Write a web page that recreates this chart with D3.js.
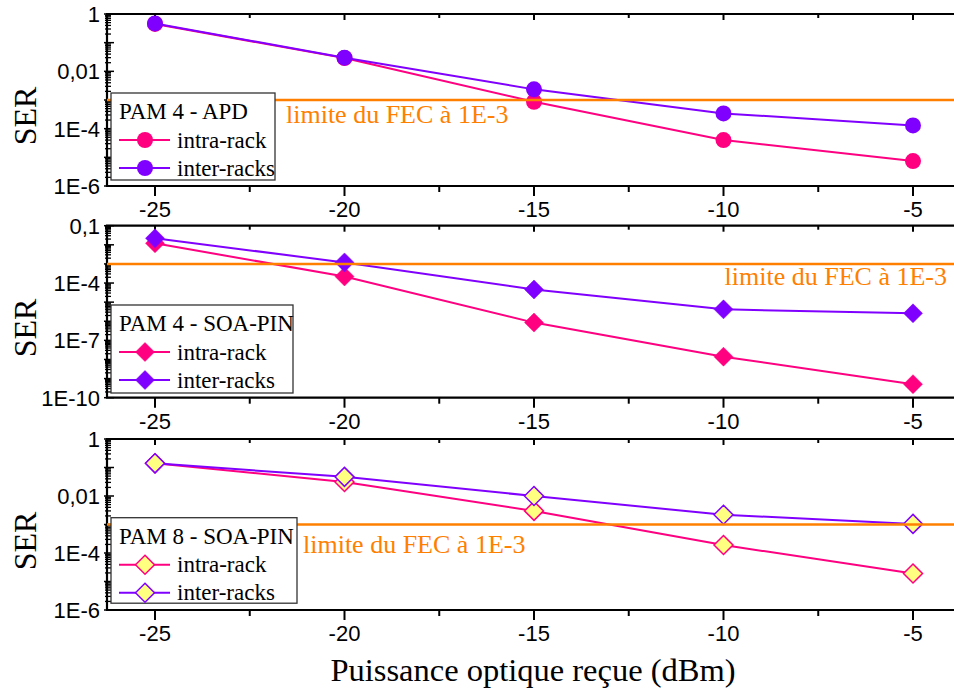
<!DOCTYPE html>
<html>
<head>
<meta charset="utf-8">
<script src="https://cdn.jsdelivr.net/npm/d3@7"></script>
<style>
body { margin: 0; background: #fff; }
svg { display: block; }
</style>
</head>
<body>
<svg id="chart" width="954" height="692"></svg>
<script>
// ---- Data ----
const powers = [-25, -20, -15, -10, -5];
const xTickLabels = ["-25", "-20", "-15", "-10", "-5"];
const seriesNames = ["intra-rack", "inter-racks"];
const panelTitles = ["PAM 4 - APD", "PAM 4 - SOA-PIN", "PAM 8 - SOA-PIN"];
const apdIntra  = [0.45, 0.029, 8.7e-4, 4.0e-5, 7.4e-6];
const apdInter  = [0.47, 0.030, 2.35e-3, 3.4e-4, 1.3e-4];
const soa4Intra = [0.012, 2.2e-4, 8.5e-7, 1.4e-8, 5.1e-10];
const soa4Inter = [0.022, 1.2e-3, 4.6e-5, 4.2e-6, 2.6e-6];
const soa8Intra = [0.14, 0.031, 3.0e-3, 1.9e-4, 1.9e-5];
const soa8Inter = [0.14, 0.047, 0.010, 2.2e-3, 1.05e-3];
const fecLimit = 1e-3;
const fecLabel = "limite du FEC à 1E-3";
const yTicksTop = [1, 0.01, 1e-4, 1e-6];
const yTickLabelsTop = ["1", "0,01", "1E-4", "1E-6"];
const yTicksMid = [0.1, 1e-4, 1e-7, 1e-10];
const yTickLabelsMid = ["0,1", "1E-4", "1E-7", "1E-10"];
const yTicksBot = [1, 0.01, 1e-4, 1e-6];
const yTickLabelsBot = ["1", "0,01", "1E-4", "1E-6"];

// ---- Styles ----
const colIntra = "#ff0080", colInter = "#8000ff", colFec = "#ff8000";
const sansFont = "'Liberation Sans', Arial, sans-serif";
const serifFont = "'Liberation Serif', 'Times New Roman', serif";

const svg = d3.select("#chart");
const left = 107, right = 960;
const x = d3.scaleLinear().domain([-25, -5]).range([155, 913]);
const xMinor = [-22.5, -17.5, -12.5, -7.5];

const panels = [
  { top: 14, bottom: 186, domain: [1e-6, 1], ticks: yTicksTop, labels: yTickLabelsTop,
    intra: apdIntra, inter: apdInter, marker: "circle", fill: null, title: panelTitles[0],
    legend: { x: 111, y: 93, w: 164, h: 87 }, fecX: 286, fecY: 123, fecAnchor: "start",
    serY: 116 },
  { top: 225.7, bottom: 397.7, domain: [1e-10, 0.1], ticks: yTicksMid, labels: yTickLabelsMid,
    intra: soa4Intra, inter: soa4Inter, marker: "diamond", fill: null, title: panelTitles[1],
    legend: { x: 111, y: 305, w: 182, h: 88 }, fecX: 947, fecY: 285, fecAnchor: "end",
    serY: 328 },
  { top: 439, bottom: 610, domain: [1e-6, 1], ticks: yTicksBot, labels: yTickLabelsBot,
    intra: soa8Intra, inter: soa8Inter, marker: "diamond", fill: "#ffff80", title: panelTitles[2],
    legend: { x: 111, y: 517.7, w: 186, h: 85.5 }, fecX: 303, fecY: 553, fecAnchor: "start",
    serY: 541 }
];

function drawMarker(g, type, cx, cy, color, fill) {
  if (type === "circle") {
    g.append("circle").attr("cx", cx).attr("cy", cy).attr("r", 8).attr("fill", color);
  } else {
    const r = 9.5;
    g.append("path")
      .attr("d", `M${cx},${cy - r}L${cx + r},${cy}L${cx},${cy + r}L${cx - r},${cy}Z`)
      .attr("fill", fill || color)
      .attr("stroke", color).attr("stroke-width", fill ? 1.5 : 0.5);
  }
}

panels.forEach(p => {
  const g = svg.append("g");
  const y = d3.scaleLog().domain(p.domain).range([p.bottom, p.top]);

  // minor y ticks
  const lo = Math.round(Math.log10(p.domain[0])), hi = Math.round(Math.log10(p.domain[1]));
  for (let e = lo; e < hi; e++) {
    for (let m = 2; m <= 9; m++) {
      const yy = y(m * Math.pow(10, e));
      g.append("line").attr("x1", left - 2).attr("x2", left + 4).attr("y1", yy).attr("y2", yy)
        .attr("stroke", "#000").attr("stroke-width", 1.3);
    }
  }
  for (let e = lo; e <= hi; e++) {
    const yy = y(Math.pow(10, e));
    g.append("line").attr("x1", left - 3).attr("x2", left + 7).attr("y1", yy).attr("y2", yy)
      .attr("stroke", "#000").attr("stroke-width", 1.5);
  }
  // y tick labels
  p.ticks.forEach((t, i) => {
    g.append("text").attr("x", 100).attr("y", y(t) + 8)
      .attr("text-anchor", "end").attr("font-family", sansFont).attr("font-size", 22)
      .text(p.labels[i]);
  });

  // x ticks: bottom outward, top inward
  powers.forEach((v, i) => {
    g.append("line").attr("x1", x(v)).attr("x2", x(v)).attr("y1", p.bottom).attr("y2", p.bottom + 10)
      .attr("stroke", "#000").attr("stroke-width", 2);
    g.append("line").attr("x1", x(v)).attr("x2", x(v)).attr("y1", p.top).attr("y2", p.top + 6)
      .attr("stroke", "#000").attr("stroke-width", 2);
    g.append("text").attr("x", x(v)).attr("y", p.bottom + 31)
      .attr("text-anchor", "middle").attr("font-family", sansFont).attr("font-size", 22)
      .text(xTickLabels[i]);
  });
  xMinor.forEach(v => {
    g.append("line").attr("x1", x(v)).attr("x2", x(v)).attr("y1", p.bottom).attr("y2", p.bottom + 6)
      .attr("stroke", "#000").attr("stroke-width", 2);
    g.append("line").attr("x1", x(v)).attr("x2", x(v)).attr("y1", p.top).attr("y2", p.top + 4)
      .attr("stroke", "#000").attr("stroke-width", 2);
  });

  // frame
  g.append("path")
    .attr("d", `M${right},${p.top}H${left}V${p.bottom}H${right}`)
    .attr("fill", "none").attr("stroke", "#000").attr("stroke-width", 2.2);

  // series lines
  const line = d3.line().x(d => x(d[0])).y(d => y(d[1]));
  [[p.intra, colIntra], [p.inter, colInter]].forEach(([vals, col]) => {
    const pts = powers.map((v, i) => [v, vals[i]]);
    g.append("path").attr("d", line(pts)).attr("fill", "none")
      .attr("stroke", col).attr("stroke-width", 2);
    pts.forEach(d => drawMarker(g, p.marker, x(d[0]), y(d[1]), col, p.fill));
  });

  // FEC line
  g.append("line").attr("x1", left).attr("x2", right)
    .attr("y1", y(fecLimit)).attr("y2", y(fecLimit))
    .attr("stroke", colFec).attr("stroke-width", 2.5);
  g.append("text").attr("x", p.fecX).attr("y", p.fecY).attr("text-anchor", p.fecAnchor)
    .attr("font-family", serifFont).attr("font-size", 26).attr("fill", colFec)
    .text(fecLabel);

  // legend
  const L = p.legend;
  const lg = g.append("g");
  lg.append("rect").attr("x", L.x).attr("y", L.y).attr("width", L.w).attr("height", L.h)
    .attr("fill", "#fff").attr("stroke", "#333").attr("stroke-width", 1.3);
  lg.append("text").attr("x", L.x + 8).attr("y", L.y + 26)
    .attr("font-family", serifFont).attr("font-size", 23).text(p.title);
  [[colIntra, seriesNames[0], L.y + 47], [colInter, seriesNames[1], L.y + 75]].forEach(([col, name, yy]) => {
    lg.append("line").attr("x1", L.x + 8).attr("x2", L.x + 59).attr("y1", yy).attr("y2", yy)
      .attr("stroke", col).attr("stroke-width", 2);
    drawMarker(lg, p.marker, L.x + 34, yy, col, p.fill);
    lg.append("text").attr("x", L.x + 66).attr("y", yy + 7.5)
      .attr("font-family", serifFont).attr("font-size", 23).text(name);
  });

  // SER label
  svg.append("text").attr("transform", `translate(36,${p.serY}) rotate(-90)`)
    .attr("text-anchor", "middle").attr("font-family", serifFont).attr("font-size", 32)
    .text("SER");
});

svg.append("text").attr("x", 533).attr("y", 681).attr("text-anchor", "middle")
  .attr("font-family", serifFont).attr("font-size", 32.5)
  .text("Puissance optique reçue (dBm)");
</script>
</body>
</html>
